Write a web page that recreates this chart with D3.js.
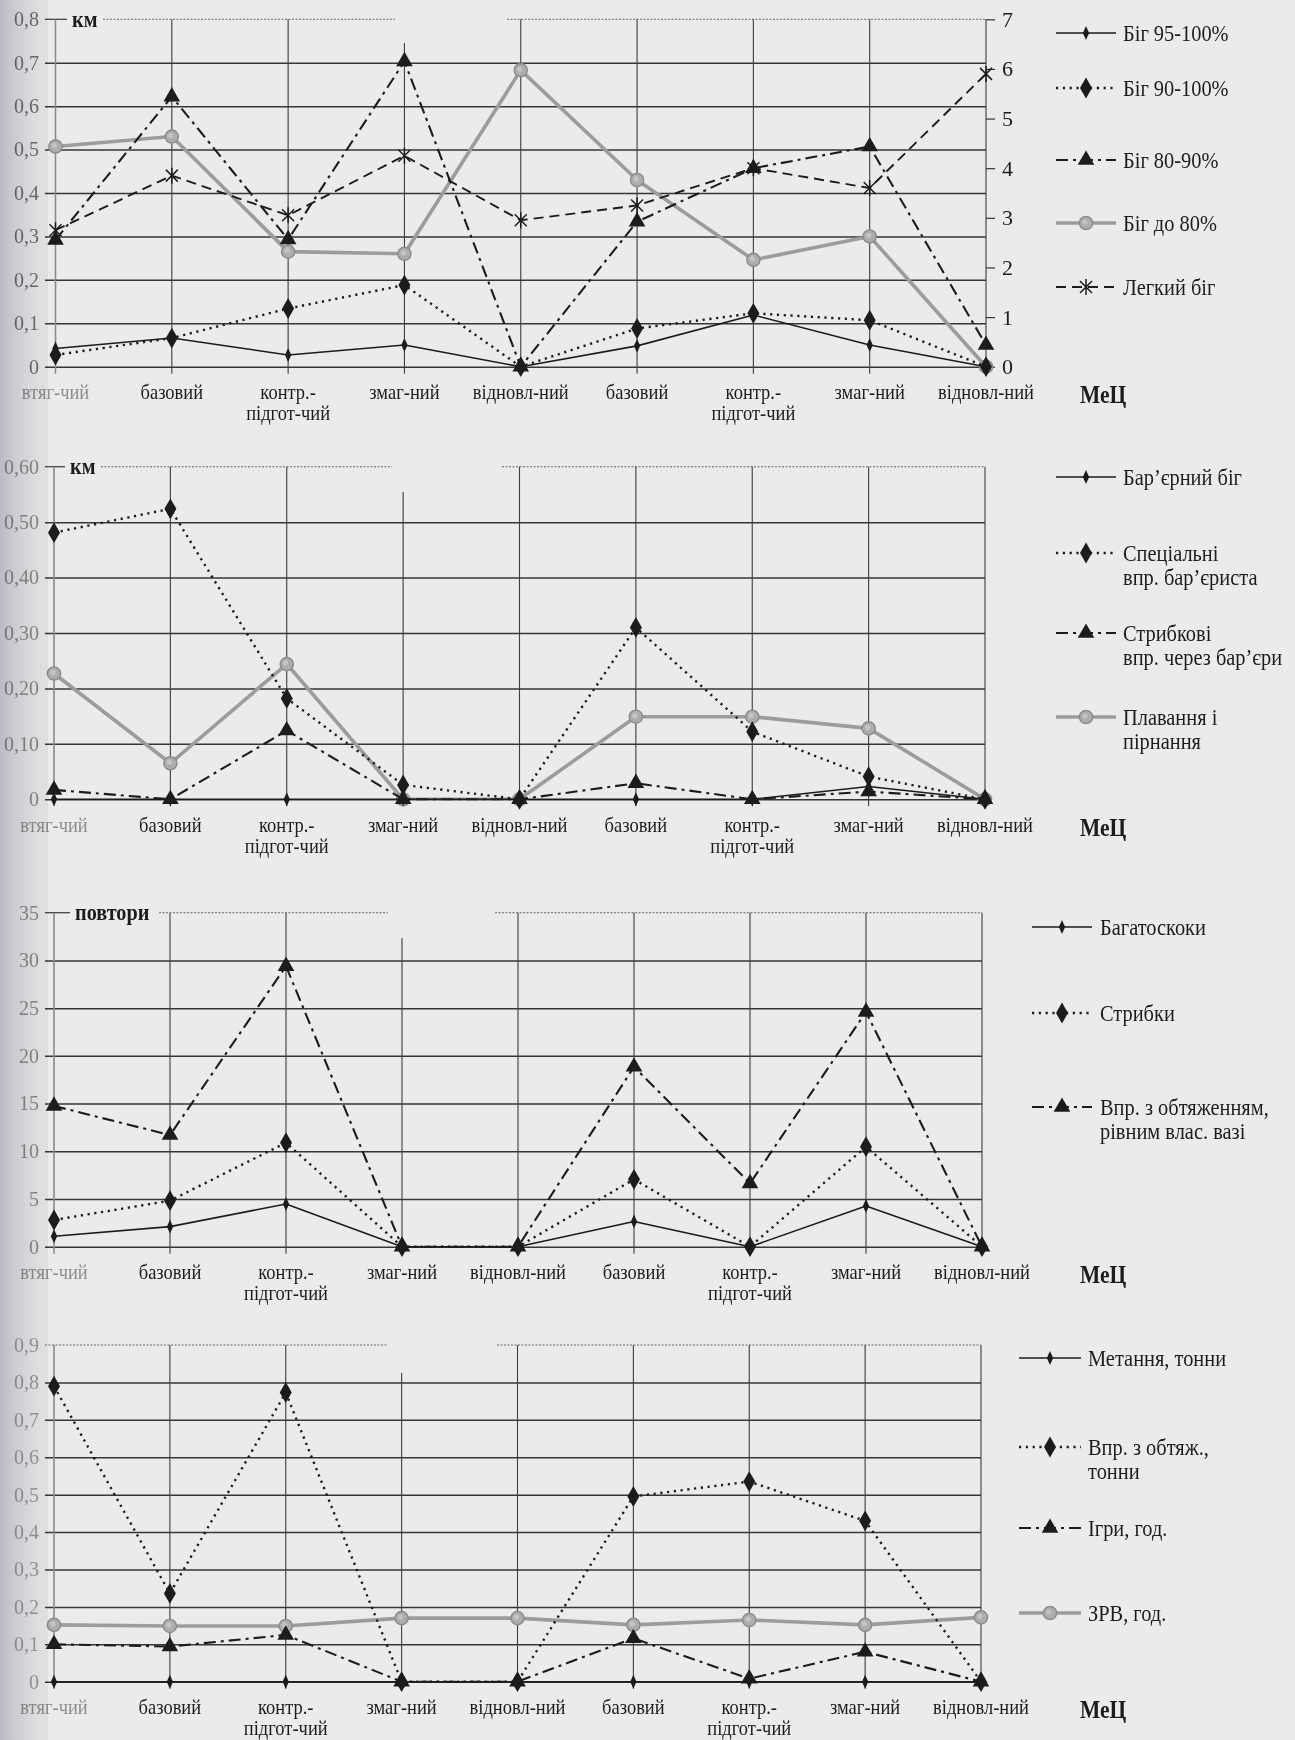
<!DOCTYPE html>
<html><head><meta charset="utf-8">
<script src="https://cdn.jsdelivr.net/npm/d3@7"></script>
<style>html,body{margin:0;padding:0;background:#ebebeb;} svg{display:block;}</style>
</head><body>
<svg id="c" width="1295" height="1740"></svg>
<script>
// ---------- DATA ----------
const categories = ["втяг-чий","базовий","контр.-|підгот-чий","змаг-ний","відновл-ний","базовий","контр.-|підгот-чий","змаг-ний","відновл-ний"];
const xAxisTitle = "МеЦ";

// Panel 1 (км; Легкий біг on the right axis)
const p1TickValues = [0,0.1,0.2,0.3,0.4,0.5,0.6,0.7,0.8];
const p1TickLabels = ["0","0,1","0,2","0,3","0,4","0,5","0,6","0,7","0,8"];
const p1RightTickValues = [0,1,2,3,4,5,6,7];
const p1RightTickLabels = ["0","1","2","3","4","5","6","7"];
const p1Unit = "км";
const p1Names = ["Біг 95-100%","Біг 90-100%","Біг 80-90%","Біг до 80%","Легкий біг"];
const p1Run95_100 = [0.042,0.066,0.027,0.050,0.000,0.048,0.119,0.050,0.000];
const p1Run90_100 = [0.027,0.066,0.134,0.188,0.000,0.088,0.123,0.107,0.000];
const p1Run80_90  = [0.292,0.622,0.293,0.703,0.000,0.334,0.457,0.507,0.050];
const p1RunTo80   = [0.507,0.530,0.265,0.260,0.683,0.430,0.246,0.300,0.000];
const p1EasyRun   = [2.75,3.85,3.05,4.25,2.95,3.25,4.00,3.60,5.90];

// Panel 2 (км)
const p2TickValues = [0,0.1,0.2,0.3,0.4,0.5,0.6];
const p2TickLabels = ["0","0,10","0,20","0,30","0,40","0,50","0,60"];
const p2Unit = "км";
const p2Names = [["Бар’єрний біг"],["Спеціальні","впр. бар’єриста"],["Стрибкові","впр. через бар’єри"],["Плавання і","пірнання"]];
const p2Hurdles  = [0,0,0,0,0,0,0,0.023,0];
const p2Special  = [0.481,0.524,0.182,0.026,0,0.310,0.122,0.041,0];
const p2Jumping  = [0.017,0,0.124,0,0,0.029,0,0.014,0];
const p2Swimming = [0.227,0.065,0.244,0,0,0.149,0.149,0.128,0];

// Panel 3 (повтори)
const p3TickValues = [0,5,10,15,20,25,30,35];
const p3TickLabels = ["0","5","10","15","20","25","30","35"];
const p3Unit = "повтори";
const p3Names = [["Багатоскоки"],["Стрибки"],["Впр. з обтяженням,","рівним влас. вазі"]];
const p3MultiJumps = [1.1,2.1,4.47,0,0,2.65,0,4.26,0];
const p3Jumps      = [2.8,4.82,10.9,0,0,7.06,0,10.48,0];
const p3Weights    = [14.75,11.7,29.4,0,0,18.85,6.64,24.6,0];

// Panel 4
const p4TickValues = [0,0.1,0.2,0.3,0.4,0.5,0.6,0.7,0.8,0.9];
const p4TickLabels = ["0","0,1","0,2","0,3","0,4","0,5","0,6","0,7","0,8","0,9"];
const p4Names = [["Метання, тонни"],["Впр. з обтяж.,","тонни"],["Ігри, год."],["ЗРВ, год."]];
const p4Throwing = [0,0,0,0,0,0,0,0,0];
const p4Weights  = [0.790,0.236,0.773,0,0,0.495,0.535,0.430,0];
const p4Games    = [0.100,0.094,0.125,0,0,0.116,0.008,0.080,0];
const p4ZRV      = [0.152,0.149,0.149,0.170,0.170,0.152,0.165,0.152,0.172];

// ---------- STYLES ----------
const INK = "#1c1c1c";
const styles = {
  solid:   {stroke:INK, width:1.6, dash:null, marker:"smallDiamond"},
  dotted:  {stroke:INK, width:2.4, dash:"2.2,4.6", marker:"bigDiamond"},
  dashdot: {stroke:INK, width:2.1, dash:"12,5,3,5", marker:"triangle"},
  gray:    {stroke:"#9c9c9c", width:3.6, dash:null, marker:"circle"},
  dashed:  {stroke:INK, width:1.9, dash:"10,6", marker:"star"}
};
const FONT = "'Liberation Serif','Times New Roman',serif";

const svg = d3.select("#c");
const defs = svg.append("defs");
const grad = defs.append("linearGradient").attr("id","edge").attr("x1","0").attr("x2","1");
grad.append("stop").attr("offset","0%").attr("stop-color","#a9a6b9");
grad.append("stop").attr("offset","30%").attr("stop-color","#c8c6d2");
grad.append("stop").attr("offset","70%").attr("stop-color","#e4e4e7");
grad.append("stop").attr("offset","100%").attr("stop-color","#ebebeb");
svg.append("rect").attr("width",1295).attr("height",1740).attr("fill","#ebebeb");

function ctext(sel, x, y, s, o) {
  o = o || {};
  return sel.append("text")
    .attr("transform", `translate(${x},${y}) scale(${o.sx||0.86},1)`)
    .attr("text-anchor", o.anchor||"start")
    .attr("dominant-baseline","central")
    .attr("font-family", FONT)
    .attr("font-size", o.size||20)
    .attr("font-weight", o.weight||"normal")
    .attr("fill", o.fill||INK)
    .text(s);
}

function marker(g, type, cx, cy) {
  if (type === "circle") {
    g.append("circle").attr("cx",cx).attr("cy",cy).attr("r",6.6)
      .attr("fill","#adadad").attr("stroke","#8a8a8a").attr("stroke-width",1.4);
    g.append("circle").attr("cx",cx-1).attr("cy",cy-1).attr("r",2.6).attr("fill","#c4c4c4");
  } else if (type === "star") {
    g.append("path").attr("d",`M${cx-6},${cy-6}L${cx+6},${cy+6}M${cx-6},${cy+6}L${cx+6},${cy-6}M${cx},${cy-8}L${cx},${cy+8}`)
      .attr("stroke",INK).attr("stroke-width",1.5).attr("fill","none");
  } else {
    const sym = type === "triangle" ? d3.symbolTriangle : d3.symbolDiamond;
    const size = type === "triangle" ? 120 : (type === "bigDiamond" ? 125 : 42);
    g.append("path").attr("d", d3.symbol().type(sym).size(size)())
      .attr("transform", `translate(${cx},${cy})` + (type==="smallDiamond" ? " scale(0.9,1.15)" : ""))
      .attr("fill", INK);
  }
}

function drawPanel(cfg) {
  const g = svg.append("g");
  const n = categories.length;
  const x = d3.scalePoint().domain(d3.range(n)).range(cfg.xr);
  const y = d3.scaleLinear().domain([0, cfg.tickValues[cfg.tickValues.length-1]]).range([cfg.zero, cfg.top]);
  const xL = 45, xR = cfg.xr[1];

  const grid = g.append("g").attr("transform", `translate(${xL},0)`)
    .call(d3.axisLeft(y).tickValues(cfg.tickValues.slice(0,-1)).tickSize(-(xR-xL)).tickFormat(""));
  grid.select(".domain").remove();
  grid.selectAll("line").attr("stroke","#363636").attr("stroke-width",1.5);

  const yt = y(cfg.tickValues[cfg.tickValues.length-1]);
  let startX = xL;
  if (cfg.unit) {
    g.append("line").attr("x1",xL).attr("x2",cfg.unitX-5).attr("y1",yt).attr("y2",yt)
      .attr("stroke","#444").attr("stroke-width",1.3);
    ctext(g, cfg.unitX, yt, cfg.unit, {size:23, weight:"bold", sx:0.88});
    startX = cfg.unitX + cfg.unitW + 6;
  }
  [[startX, cfg.gap[0]], [cfg.gap[1], xR]].forEach(([a,b]) => {
    g.append("line").attr("x1",a).attr("x2",b).attr("y1",yt).attr("y2",yt)
      .attr("stroke","#666").attr("stroke-width",1.1).attr("stroke-dasharray","2,1.5");
  });

  for (let i = 1; i < n; i++) {
    const top = (i === 3) ? cfg.zmagTop : yt;
    g.append("line").attr("x1",x(i)).attr("x2",x(i)).attr("y1",top).attr("y2",cfg.zero+7)
      .attr("stroke","#3d3d3d").attr("stroke-width",1.1);
  }
  g.append("line").attr("x1",x(0)).attr("x2",x(0)).attr("y1",yt).attr("y2",cfg.zero+7)
    .attr("stroke","#8a8a8a").attr("stroke-width",1.6);

  const ax = g.append("g").attr("transform", `translate(${xL},0)`)
    .call(d3.axisLeft(y).tickValues(cfg.tickValues).tickSize(0).tickPadding(6)
      .tickFormat((d,i) => cfg.tickLabels[i]));
  ax.select(".domain").remove();
  ax.selectAll("text").attr("font-family",FONT).attr("font-size",20).attr("fill",cfg.labelFill);

  let y2 = null;
  if (cfg.rightTickValues) {
    y2 = d3.scaleLinear().domain([0, cfg.rightTickValues[cfg.rightTickValues.length-1]]).range([cfg.zero, cfg.top]);
    const ar = g.append("g").attr("transform", `translate(${xR},0)`)
      .call(d3.axisRight(y2).tickValues(cfg.rightTickValues).tickSize(9).tickPadding(7)
        .tickFormat((d,i) => cfg.rightTickLabels[i]));
    ar.select(".domain").remove();
    ar.selectAll("line").attr("stroke","#333").attr("stroke-width",1.2);
    ar.selectAll("text").attr("font-family",FONT).attr("font-size",22).attr("fill",INK);
  }

  categories.forEach((c,i) => {
    const parts = c.split("|");
    parts.forEach((p,k) => {
      ctext(g, x(i), cfg.zero + 25 + k*21, p, {size:21.5, anchor:"middle", fill: i===0 ? "#8e8e8e" : INK});
    });
  });
  ctext(g, 1080, cfg.zero + 28, xAxisTitle, {size:25, weight:"bold", sx:0.86});

  const order = cfg.drawOrder || d3.range(cfg.series.length);
  order.forEach(si => {
    const s = cfg.series[si];
    const st = styles[s.style];
    const ys = s.axis === 2 ? y2 : y;
    const line = d3.line().x((d,i) => x(i)).y(d => ys(d));
    g.append("path").datum(s.values).attr("d", line).attr("fill","none")
      .attr("stroke", st.stroke).attr("stroke-width", st.width)
      .attr("stroke-dasharray", st.dash).attr("stroke-linejoin","round");
    s.values.forEach((v,i) => marker(g, st.marker, x(i), ys(v)));
  });

  cfg.series.forEach((s,si) => {
    const st = styles[s.style];
    const ly = cfg.legendY[si];
    const [a,b] = cfg.legendLine;
    g.append("line").attr("x1",a).attr("x2",b).attr("y1",ly).attr("y2",ly)
      .attr("stroke",st.stroke).attr("stroke-width",st.width).attr("stroke-dasharray",st.dash);
    marker(g, st.marker, (a+b)/2, ly);
    const names = Array.isArray(s.name) ? s.name : [s.name];
    names.forEach((nm,k) => ctext(g, cfg.legendText, ly + k*24, nm, {size:24, sx:0.85}));
  });
}

drawPanel({
  top:19.3, zero:366.7, xr:[55.5,986], gap:[395,507], zmagTop:43,
  tickValues:p1TickValues, tickLabels:p1TickLabels, labelFill:"#6e6e6e",
  rightTickValues:p1RightTickValues, rightTickLabels:p1RightTickLabels,
  unit:p1Unit, unitX:72, unitW:25,
  series:[
    {name:p1Names[0], values:p1Run95_100, style:"solid", axis:1},
    {name:p1Names[1], values:p1Run90_100, style:"dotted", axis:1},
    {name:p1Names[2], values:p1Run80_90, style:"dashdot", axis:1},
    {name:p1Names[3], values:p1RunTo80, style:"gray", axis:1},
    {name:p1Names[4], values:p1EasyRun, style:"dashed", axis:2}
  ],
  drawOrder:[3,4,2,1,0],
  legendY:[33,88,160,223,287], legendLine:[1056,1116], legendText:1123
});
drawPanel({
  top:466.7, zero:799.3, xr:[54,985], gap:[392,502], zmagTop:492,
  tickValues:p2TickValues, tickLabels:p2TickLabels, labelFill:"#8a8a8a",
  unit:p2Unit, unitX:70, unitW:25,
  series:[
    {name:p2Names[0], values:p2Hurdles, style:"solid"},
    {name:p2Names[1], values:p2Special, style:"dotted"},
    {name:p2Names[2], values:p2Jumping, style:"dashdot"},
    {name:p2Names[3], values:p2Swimming, style:"gray"}
  ],
  drawOrder:[3,2,1,0],
  legendY:[477,553,633,717], legendLine:[1056,1116], legendText:1123
});
drawPanel({
  top:912.7, zero:1246.7, xr:[54,982], gap:[388,495], zmagTop:938,
  tickValues:p3TickValues, tickLabels:p3TickLabels, labelFill:"#8a8a8a",
  unit:p3Unit, unitX:75, unitW:78,
  series:[
    {name:p3Names[0], values:p3MultiJumps, style:"solid"},
    {name:p3Names[1], values:p3Jumps, style:"dotted"},
    {name:p3Names[2], values:p3Weights, style:"dashdot"}
  ],
  drawOrder:[2,1,0],
  legendY:[927,1013,1107], legendLine:[1032,1092], legendText:1100
});
drawPanel({
  top:1345, zero:1681.7, xr:[54,981], gap:[388,497], zmagTop:1373,
  tickValues:p4TickValues, tickLabels:p4TickLabels, labelFill:"#9a9a9a",
  series:[
    {name:p4Names[0], values:p4Throwing, style:"solid"},
    {name:p4Names[1], values:p4Weights, style:"dotted"},
    {name:p4Names[2], values:p4Games, style:"dashdot"},
    {name:p4Names[3], values:p4ZRV, style:"gray"}
  ],
  drawOrder:[3,2,1,0],
  legendY:[1358,1447,1528,1613], legendLine:[1019,1081], legendText:1088
});

svg.append("rect").attr("x",0).attr("y",0).attr("width",48).attr("height",1740)
  .attr("fill","url(#edge)").attr("opacity",0.6).style("mix-blend-mode","multiply");
</script>
</body></html>
